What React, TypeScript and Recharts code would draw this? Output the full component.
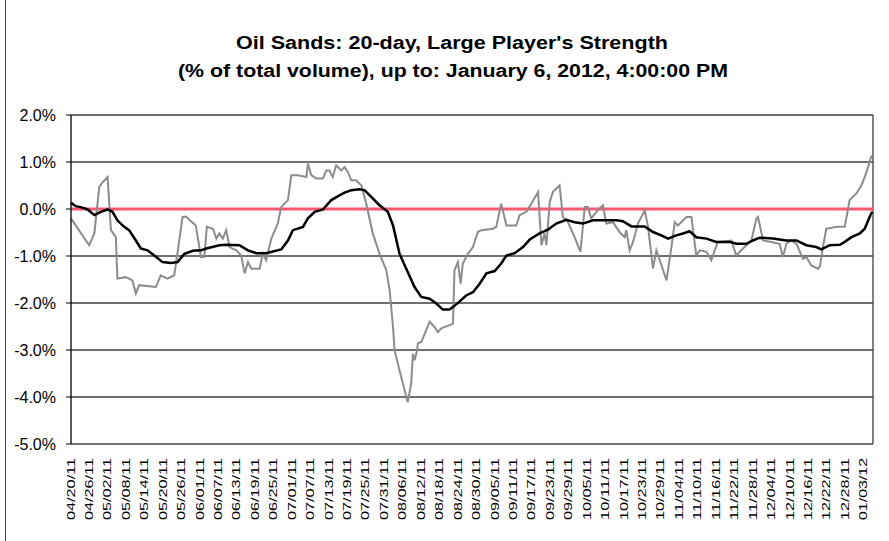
import React from 'react';
import { LineChart, Line, XAxis, YAxis, CartesianGrid, ReferenceLine } from 'recharts';

// x values are calendar days after 04/20/11, y values are % of total volume
const grayDays = [
  0, 5.9, 7.6, 9.2, 10.3, 11.9, 13.0, 14.6, 15.1, 17.8, 20.0, 21.1, 22.2, 27.6, 29.2, 31.4, 33.6, 34.7,
  36.3, 37.4, 40.6, 42.3, 43.4, 44.2, 46.2, 47.3, 48.3, 49.4, 50.5, 51.6, 53.8, 55.4, 56.5, 57.6, 58.7,
  61.4, 62.4, 63.5, 65.2, 67.3, 68.4, 70.6, 71.7, 73.8, 76.6, 77.1, 78.2, 79.8, 82.0, 83.1, 84.1, 85.2,
  86.3, 88.0, 89.0, 90.1, 91.2, 92.8, 94.5, 96.1, 98.2, 100.4, 102.6, 103.7, 104.8, 105.3, 106.9, 108.6,
  109.6, 110.7, 111.3, 111.8, 112.6, 112.9, 114.0, 116.7, 118.3, 119.4, 120.5, 123.2, 124.3, 124.8, 125.9,
  126.8, 127.5, 129.2, 130.8, 132.4, 133.5, 137.3, 138.4, 140.0, 141.7, 144.9, 146.0, 148.2, 149.8, 152.0,
  153.1, 154.1, 154.7, 155.8, 156.8, 159.0, 160.1, 161.7, 163.9, 165.8, 167.2, 168.2, 169.3, 171.5, 173.1,
  174.2, 176.4, 178.5, 180.2, 180.7, 181.8, 182.9, 184.5, 186.7, 187.8, 189.4, 190.5, 191.6, 193.8, 195.4,
  196.5, 197.5, 200.3, 201.9, 203.5, 204.6, 206.8, 208.4, 209.5, 210.5, 214.9, 216.5, 218.7, 221.4, 223.1,
  223.6, 225.2, 227.9, 230.6, 231.7, 232.8, 234.4, 236.1, 238.2, 239.3, 240.9, 243.1, 243.7, 244.7, 245.8,
  249.1, 251.8, 253.4, 255.6, 257.2, 258.3, 259.4, 260.5,
];
const grayValues = [
  -0.20, -0.77, -0.52, 0.47, 0.57, 0.68, -0.45, -0.60, -1.48, -1.45, -1.52, -1.80, -1.62, -1.66, -1.41, -1.48, -1.41, -0.91,
  -0.17, -0.16, -0.35, -1.02, -1.02, -0.38, -0.42, -0.63, -0.52, -0.63, -0.45, -0.81, -0.88, -0.99, -1.37, -1.13, -1.27,
  -1.27, -0.95, -1.09, -0.63, -0.31, 0.04, 0.19, 0.72, 0.72, 0.68, 0.97, 0.72, 0.65, 0.65, 0.82, 0.82, 0.68,
  0.93, 0.82, 0.89, 0.79, 0.61, 0.61, 0.50, 0.11, -0.52, -0.95, -1.30, -1.73, -2.51, -3.01, -3.43, -3.86,
  -4.11, -3.71, -3.08, -3.22, -3.01, -2.86, -2.83, -2.40, -2.51, -2.62, -2.54, -2.47, -2.44, -1.30, -1.13,
  -1.59, -1.16, -0.95, -0.81, -0.49, -0.45, -0.42, -0.38, 0.11, -0.35, -0.35, -0.13, -0.06, 0.11, 0.36,
  -0.77, -0.52, -0.77, 0.15, 0.36, 0.50, -0.17, -0.28, -0.60, -0.91, 0.04, 0.04, -0.20, -0.02, 0.08,
  -0.31, -0.28, -0.49, -0.60, -0.45, -0.88, -0.70, -0.31, -0.03, -0.38, -1.27, -0.88, -1.09, -1.52, -0.81,
  -0.28, -0.35, -0.17, -0.17, -0.99, -0.88, -0.91, -1.09, -0.88, -0.70, -0.67, -0.99, -0.84, -0.67, -0.20,
  -0.17, -0.67, -0.70, -0.74, -1.02, -0.74, -0.67, -0.74, -1.06, -1.02, -1.20, -1.27, -1.23, -0.81, -0.42,
  -0.38, -0.38, 0.19, 0.33, 0.50, 0.68, 0.89, 1.14,
];

const blackDays = [
  0, 1.6, 3.7, 5.4, 7.6, 9.7, 11.9, 13.5, 15.1, 17.3, 18.9, 21.1, 22.7, 24.9, 27.1, 29.8, 32.5, 34.7, 36.8,
  39.6, 42.3, 44.0, 48.3, 50.5, 54.8, 57.6, 60.3, 63.5, 68.4, 70.6, 72.2, 75.5, 77.1, 79.3, 82.0, 84.7,
  86.8, 89.0, 91.2, 93.9, 95.5, 97.7, 100.4, 103.1, 104.8, 106.9, 109.1, 111.8, 114.0, 116.7, 118.9, 121.0,
  123.2, 125.4, 128.6, 130.8, 133.0, 135.2, 137.9, 140.0, 141.7, 144.4, 147.1, 149.3, 152.5, 155.2, 157.9,
  161.2, 163.9, 166.6, 169.9, 173.1, 177.5, 179.6, 182.4, 186.7, 189.4, 192.1, 194.3, 197.0, 199.7, 201.3,
  203.5, 206.8, 210.0, 214.4, 216.5, 219.8, 221.9, 224.1, 228.4, 232.8, 236.1, 239.3, 242.5, 244.2, 246.9,
  250.2, 251.8, 254.0, 256.7, 258.3, 259.9, 260.7,
];
const blackValues = [
  0.13, 0.06, 0.03, -0.01, -0.13, -0.06, -0.01, -0.06, -0.24, -0.38, -0.45, -0.67, -0.84, -0.88, -0.99, -1.13, -1.15, -1.13, -0.96,
  -0.89, -0.88, -0.84, -0.77, -0.76, -0.77, -0.88, -0.94, -0.94, -0.86, -0.67, -0.45, -0.38, -0.20, -0.06, -0.01, 0.19,
  0.27, 0.35, 0.40, 0.42, 0.40, 0.26, 0.08, -0.06, -0.35, -0.95, -1.27, -1.66, -1.87, -1.91, -2.01, -2.14,
  -2.14, -2.03, -1.84, -1.77, -1.59, -1.37, -1.32, -1.16, -0.99, -0.94, -0.81, -0.65, -0.52, -0.44, -0.31,
  -0.23, -0.28, -0.31, -0.24, -0.24, -0.24, -0.26, -0.37, -0.37, -0.49, -0.56, -0.63, -0.56, -0.51, -0.47,
  -0.60, -0.63, -0.70, -0.70, -0.74, -0.74, -0.67, -0.61, -0.63, -0.67, -0.67, -0.77, -0.81, -0.86, -0.77,
  -0.76, -0.70, -0.60, -0.52, -0.42, -0.17, -0.06,
];

const tickLabels = [
  '04/20/11', '04/26/11', '05/02/11', '05/08/11', '05/14/11', '05/20/11', '05/26/11', '06/01/11', '06/07/11',
  '06/13/11', '06/19/11', '06/25/11', '07/01/11', '07/07/11', '07/13/11', '07/19/11', '07/25/11', '07/31/11',
  '08/06/11', '08/12/11', '08/18/11', '08/24/11', '08/30/11', '09/05/11', '09/11/11', '09/17/11', '09/23/11',
  '09/29/11', '10/05/11', '10/11/11', '10/17/11', '10/23/11', '10/29/11', '11/04/11', '11/10/11', '11/16/11',
  '11/22/11', '11/28/11', '12/04/11', '12/10/11', '12/16/11', '12/22/11', '12/28/11', '01/03/12',
];
const yTicks = [-5, -4, -3, -2, -1, 0, 1, 2];
const lastDay = 261; // 01/06/12

const titleLine1 = "Oil Sands: 20-day, Large Player's Strength";
const titleLine2 = '(% of total volume), up to: January 6, 2012, 4:00:00 PM';

const DAY = 86400000;
const start = Date.UTC(2011, 3, 20);
const labelToDay = (s: string) => {
  const [m, d, y] = s.split('/').map(Number);
  return Math.round((Date.UTC(2000 + y, m - 1, d) - start) / DAY);
};
const xTicks = tickLabels.map(labelToDay);
const labelByDay: Record<number, string> = {};
tickLabels.forEach((l, i) => { labelByDay[xTicks[i]] = l; });

const grayData = grayDays.map((d, i) => ({ day: d, v: grayValues[i] }));
const blackData = blackDays.map((d, i) => ({ day: d, v: blackValues[i] }));

const FONT = '"Liberation Sans", Arial, sans-serif';

const XTick = (props: any) => {
  const { x, y, payload } = props;
  return (
    <text
      x={x}
      y={y}
      transform={`rotate(-90, ${x}, ${y})`}
      textAnchor="end"
      dominantBaseline="central"
      fontFamily={FONT}
      fontSize={10}
      fill="#000"
      textLength={62}
      lengthAdjust="spacingAndGlyphs"
    >
      {labelByDay[payload.value]}
    </text>
  );
};

const YTick = (props: any) => {
  const { x, y, payload } = props;
  return (
    <text x={x} y={y} textAnchor="end" dominantBaseline="central" fontFamily={FONT} fontSize={16} fill="#000">
      {payload.value.toFixed(1)}%
    </text>
  );
};

const App: React.FC = () => {
  return (
    <div style={{ position: 'absolute', left: 0, top: 0, width: 889, height: 541, background: '#fff' }}>
      <style>{`body { margin: 0; }`}</style>
      <div style={{ position: 'absolute', left: 5, top: 0, bottom: 0, borderLeft: '1px solid #444' }} />
      <LineChart
        width={889}
        height={541}
        data={grayData}
        margin={{ top: 115, right: 16, bottom: 7, left: 0 }}
      >
        <CartesianGrid vertical={false} stroke="#404040" strokeWidth={1.3} />
        <XAxis
          dataKey="day"
          type="number"
          domain={[0, lastDay]}
          ticks={xTicks}
          interval={0}
          height={90}
          axisLine={false}
          tickLine={false}
          tickSize={0}
          tickMargin={14}
          tick={<XTick />}
        />
        <YAxis
          type="number"
          domain={[-5, 2]}
          ticks={yTicks}
          interval={0}
          width={71}
          axisLine={{ stroke: '#000', strokeWidth: 1.3 }}
          tickLine={{ stroke: '#000' }}
          tickSize={5}
          tickMargin={10}
          tick={<YTick />}
        />
        <ReferenceLine x={lastDay} stroke="#404040" strokeWidth={1.3} />
        <ReferenceLine y={0} stroke="#fa5870" strokeWidth={3} />
        <Line
          data={grayData}
          dataKey="v"
          type="linear"
          stroke="#8c8c8c"
          strokeWidth={2}
          dot={false}
          isAnimationActive={false}
        />
        <Line
          data={blackData}
          dataKey="v"
          type="linear"
          stroke="#000"
          strokeWidth={2.5}
          dot={false}
          isAnimationActive={false}
        />
      </LineChart>
      <svg width={889} height={100} style={{ position: 'absolute', left: 0, top: 0, pointerEvents: 'none' }}>
        <text x={452} y={49} textAnchor="middle" fontFamily={FONT} fontWeight="bold" fontSize={18}
          textLength={432} lengthAdjust="spacingAndGlyphs">
          {titleLine1}
        </text>
        <text x={453} y={77} textAnchor="middle" fontFamily={FONT} fontWeight="bold" fontSize={18}
          textLength={550} lengthAdjust="spacingAndGlyphs">
          {titleLine2}
        </text>
      </svg>
    </div>
  );
};

export default App;
